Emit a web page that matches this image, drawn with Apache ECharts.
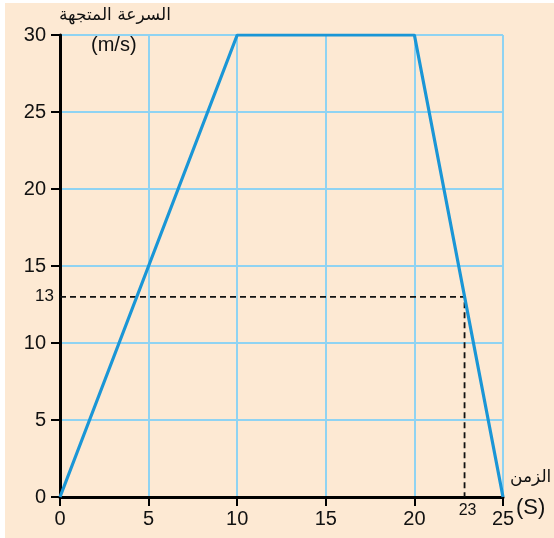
<!DOCTYPE html>
<html><head><meta charset="utf-8">
<script src="https://cdn.jsdelivr.net/npm/echarts@6/dist/echarts.min.js"></script>
<style>html,body{margin:0;padding:0;background:#fff}#c{width:554px;height:538px}</style>
</head><body><div id="c"></div>
<script>
var timeValues = [0, 10, 20, 25];
var speedValues = [0, 30, 30, 0];
var xTickLabels = [0, 5, 10, 15, 20, 25];
var yTickLabels = [0, 5, 10, 15, 20, 25, 30];
var markTimeLabel = 23, markSpeed = 13;
var markTimePos = 22.83; // where the dashed guide meets the line in the picture
var yTitle = 'السرعة المتجهة', yUnit = '(m/s)';
var xTitle = 'الزمن', xUnit = '(S)';

var FONT = '"Liberation Sans", Arial, sans-serif';
var chart = echarts.init(document.getElementById('c'));
var lineData = timeValues.map(function (t, i) { return [t, speedValues[i]]; });
chart.setOption({
  backgroundColor: '#ffffff',
  animation: false,
  graphic: [
    { type: 'rect', z: -10, shape: { x: 5, y: 3, width: 549, height: 535 }, style: { fill: '#fde9d3' } },
    { type: 'text', left: 59, top: 7, style: { text: yTitle, font: '17px "DejaVu Sans", sans-serif', fill: '#111' } },
    { type: 'text', left: 91, top: 35, style: { text: yUnit, font: '20px ' + FONT, fill: '#111' } },
    { type: 'text', left: 510, top: 469, style: { text: xTitle, font: '17px "DejaVu Sans", sans-serif', fill: '#111' } },
    { type: 'text', left: 516, top: 497, style: { text: xUnit, font: '22px ' + FONT, fill: '#111' } }
  ],
  grid: { left: 60, top: 35, right: 51, bottom: 41, containLabel: false },
  xAxis: [{
    type: 'value', min: 0, max: 25, interval: 5,
    axisLine: { show: true, onZero: false, lineStyle: { color: '#000', width: 3 } },
    axisTick: { show: true, length: 9, lineStyle: { color: '#000', width: 2 } },
    axisLabel: { customValues: xTickLabels, margin: 12, color: '#111', fontFamily: FONT, fontSize: 20 },
    splitLine: { show: true, lineStyle: { color: '#8fd3f2', width: 2 } }
  }, {
    type: 'value', min: 0, max: 25, position: 'bottom',
    axisLine: { show: false }, axisTick: { show: false }, splitLine: { show: false },
    axisLabel: { customValues: [markTimeLabel], margin: 6, color: '#111', fontFamily: FONT, fontSize: 16 }
  }],
  yAxis: [{
    type: 'value', min: 0, max: 30, interval: 5,
    axisLine: { show: true, onZero: false, lineStyle: { color: '#000', width: 3 } },
    axisTick: { show: true, length: 9, lineStyle: { color: '#000', width: 2 } },
    axisLabel: { customValues: yTickLabels, margin: 14, color: '#111', fontFamily: FONT, fontSize: 20 },
    splitLine: { show: true, lineStyle: { color: '#8fd3f2', width: 2 } }
  }, {
    type: 'value', min: 0, max: 30, position: 'left',
    axisLine: { show: false }, axisTick: { show: false }, splitLine: { show: false },
    axisLabel: { customValues: [markSpeed], margin: 6, color: '#111', fontFamily: FONT, fontSize: 17 }
  }],
  series: [
    {
      type: 'line', data: lineData, symbol: 'none', z: 5,
      lineStyle: { color: '#1a96d6', width: 3.2 }
    },
    {
      type: 'line', data: [[0, markSpeed], [markTimePos, markSpeed], [markTimePos, 0]], symbol: 'none', z: 4,
      lineStyle: { color: '#111', width: 1.8, type: [6, 4] }
    }
  ]
});
</script></body></html>
